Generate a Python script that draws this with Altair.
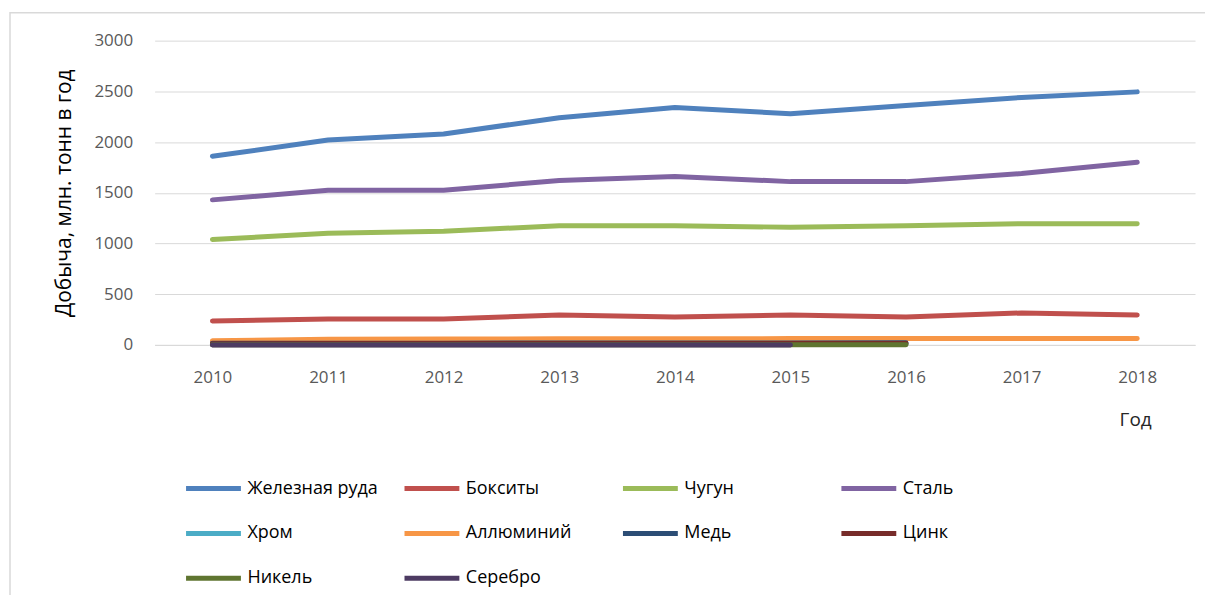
import altair as alt
import pandas as pd

years = ["2010", "2011", "2012", "2013", "2014", "2015", "2016", "2017", "2018"]

series_names = ["Железная руда", "Бокситы", "Чугун", "Сталь", "Хром",
                "Аллюминий", "Медь", "Цинк", "Никель", "Серебро"]
colors = ["#4F81BD", "#C0504D", "#9BBB59", "#8064A2", "#4BACC6",
          "#F79646", "#2C4D75", "#772C2A", "#5F7530", "#4D3B62"]

iron_ore = [1860, 2020, 2080, 2240, 2340, 2280, 2360, 2440, 2495]
bauxite = [235, 255, 255, 295, 275, 295, 275, 315, 295]
pig_iron = [1040, 1100, 1120, 1175, 1175, 1160, 1175, 1195, 1195]
steel = [1430, 1525, 1525, 1620, 1660, 1610, 1610, 1690, 1800]
chrome = [8, 8, 9, 9, 9, 9, 9, None, None]
aluminium = [42, 55, 58, 60, 61, 62, 63, 63, 64]
copper = [16, 16, 17, 18, 18, 19, 20, None, None]
zinc = [12, 13, 13, 13, 13, 13, 13, None, None]
nickel = [2, 2, 2, 2, 2, 2, 2, None, None]
silver = [0.02, 0.02, 0.02, 0.03, 0.03, 0.03, None, None, None]

all_values = [iron_ore, bauxite, pig_iron, steel, chrome,
              aluminium, copper, zinc, nickel, silver]

rows = []
for name, vals in zip(series_names, all_values):
    for yr, v in zip(years, vals):
        if v is not None:
            rows.append({"series": name, "year": yr, "value": v})
df = pd.DataFrame(rows)

FONT = "Open Sans"

lines = alt.Chart(df).mark_line(strokeWidth=5, strokeCap="round", strokeJoin="round").encode(
    x=alt.X("year:O", sort=years, scale=alt.Scale(type="point", padding=0.5),
            axis=alt.Axis(title="Год", labelAngle=0, ticks=False, labelPadding=25,
                          domainColor="#D9D9D9", domainWidth=1,
                          labelFont=FONT, labelFontSize=17, labelColor="#595959",
                          titleFont=FONT, titleFontSize=19, titleFontWeight="normal",
                          titleColor="#262626", titleX=983, titleY=75,
                          titleAlign="center", titleBaseline="middle")),
    y=alt.Y("value:Q", scale=alt.Scale(domain=[0, 3000], nice=False),
            axis=alt.Axis(title="Добыча, млн. тонн в год", values=[0, 500, 1000, 1500, 2000, 2500, 3000],
                          format="d", domain=False, ticks=False, labelPadding=22,
                          gridColor="#D9D9D9", gridWidth=1,
                          labelFont=FONT, labelFontSize=17, labelColor="#595959",
                          titleFont=FONT, titleFontSize=21, titleFontWeight="normal",
                          titleColor="#000000", titlePadding=19)),
    color=alt.Color("series:N", sort=series_names,
                    scale=alt.Scale(domain=series_names, range=colors),
                    legend=alt.Legend(title=None, orient="none", legendX=29, legendY=419,
                                      direction="horizontal",
                                      columns=4, symbolType="stroke", symbolSize=3025,
                                      symbolStrokeWidth=5, gridAlign="all",
                                      columnPadding=16, rowPadding=5,
                                      labelFont=FONT, labelFontSize=18, labelColor="#000000",
                                      labelOffset=4, labelLimit=300)),
)

frame = alt.Chart(pd.DataFrame({"a": [0]})).mark_rect(
    fill=None, stroke="#D9D9D9", strokeWidth=1.5
).encode(
    x=alt.value(-145), x2=alt.value(1080), y=alt.value(-28), y2=alt.value(600)
)

chart = alt.layer(frame, lines).properties(
    width=1043, height=305,
    autosize="none",
    padding={"left": 147, "top": 32, "right": 10, "bottom": 250},
    background="white",
).configure_view(stroke=None)

chart.save("out.html", embed_options={"renderer": "svg", "actions": False})
